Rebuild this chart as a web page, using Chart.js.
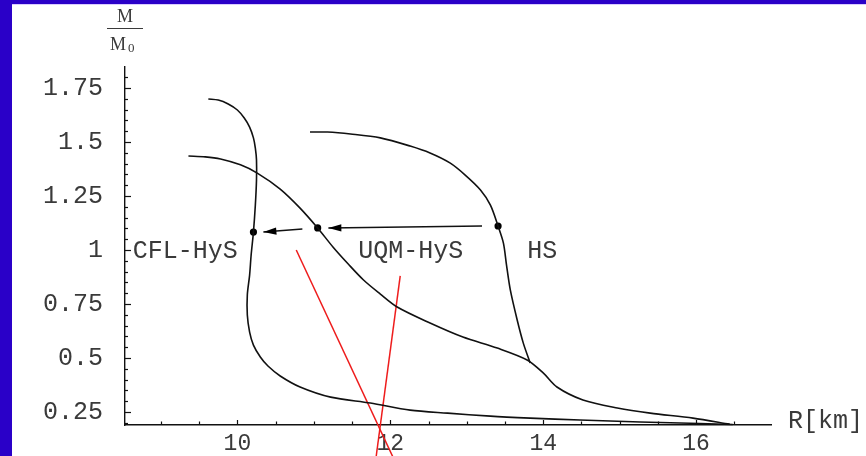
<!DOCTYPE html>
<html>
<head>
<meta charset="utf-8">
<script src="https://cdn.jsdelivr.net/npm/chart.js@4.4.1/dist/chart.umd.min.js"></script>
<style>
  html, body { margin: 0; padding: 0; background: #ffffff; }
  canvas { display: block; }
</style>
</head>
<body>
<canvas id="c" width="866" height="456"></canvas>
<script>
// ---- data ----
const R_CFL = [9.62, 9.75, 9.88, 10.0, 10.09, 10.16, 10.21, 10.235, 10.25, 10.25, 10.235, 10.21, 10.18, 10.16, 10.13, 10.13, 10.16, 10.21, 10.30, 10.40, 10.56, 10.82, 11.22, 11.74, 12.26, 12.75, 13.31, 13.83, 14.48, 15.27, 16.05, 16.48];
const M_CFL = [1.699, 1.694, 1.676, 1.648, 1.611, 1.569, 1.519, 1.472, 1.417, 1.324, 1.208, 1.083, 0.977, 0.884, 0.792, 0.699, 0.620, 0.560, 0.505, 0.463, 0.417, 0.366, 0.319, 0.292, 0.259, 0.245, 0.231, 0.222, 0.213, 0.204, 0.197, 0.192];

const R_UQM = [9.36, 9.58, 9.78, 10.04, 10.26, 10.56, 10.82, 11.05, 11.25, 11.45, 11.65, 11.87, 12.09, 12.52, 12.95, 13.40, 13.79, 14.00, 14.18, 14.52, 14.97, 15.40, 15.96, 16.44];
const M_UQM = [1.435, 1.431, 1.421, 1.394, 1.356, 1.282, 1.194, 1.102, 1.014, 0.935, 0.861, 0.796, 0.736, 0.662, 0.597, 0.546, 0.491, 0.431, 0.366, 0.306, 0.269, 0.245, 0.222, 0.194];

const R_HS = [10.95, 11.18, 11.48, 11.87, 12.26, 12.52, 12.78, 12.98, 13.18, 13.31, 13.41, 13.48, 13.52, 13.57, 13.66, 13.74, 13.83];
const M_HS = [1.546, 1.546, 1.537, 1.519, 1.481, 1.449, 1.403, 1.347, 1.278, 1.208, 1.111, 1.032, 0.931, 0.815, 0.676, 0.569, 0.477];

// transition points (HS, UQM-HyS, CFL-HyS)
const R_DOTS = [13.41, 11.05, 10.21];
const M_DOTS = [1.111, 1.102, 1.083];

// arrows: [start, tip]
const R_ARROW1 = [13.20, 11.19];
const M_ARROW1 = [1.111, 1.102];
const R_ARROW2 = [10.85, 10.34];
const M_ARROW2 = [1.097, 1.083];

// red lines
const R_RED1 = [10.77, 12.05];
const M_RED1 = [1.0, 0.03];
const R_RED2 = [12.13, 11.81];
const M_RED2 = [0.880, 0.03];

// curve labels and their anchor (left, middle) in data units
const CURVE_LABELS = ["CFL-HyS", "UQM-HyS", "HS"];
const LABEL_R = [8.63, 11.58, 13.79];
const LABEL_M = [1.0, 1.0, 1.0];

// ticks
const X_TICKS = [10, 12, 14, 16];
const Y_TICKS = [0.25, 0.5, 0.75, 1, 1.25, 1.5, 1.75];
const X_TITLE = "R[km]";
const Y_TITLE_TOP = "M";
const Y_TITLE_BOTTOM = "M";
const Y_TITLE_SUB = "0";

// ---- build ----
const pts = (R, M) => R.map((r, i) => ({ x: r, y: M[i] }));
const TEXT = '#3a3a3a';
const MONO = '"Liberation Mono", "DejaVu Sans Mono", monospace';
const SERIF = '"Liberation Serif", "DejaVu Serif", serif';

const curveStyle = { showLine: true, borderColor: '#111', borderWidth: 1.6, pointRadius: 0, tension: 0.3, fill: false, clip: false };
const redStyle = { showLine: true, borderColor: '#ee1c1c', borderWidth: 1.5, pointRadius: 0, tension: 0, fill: false, clip: false };
const arrowStyle = { showLine: true, borderColor: '#111', borderWidth: 1.4, pointRadius: 0, tension: 0, fill: false, clip: false };

const datasets = [
  Object.assign({ label: 'CFL-HyS', data: pts(R_CFL, M_CFL) }, curveStyle),
  Object.assign({ label: 'UQM-HyS', data: pts(R_UQM, M_UQM) }, curveStyle),
  Object.assign({ label: 'HS', data: pts(R_HS, M_HS) }, curveStyle),
  Object.assign({ label: 'arrow1', data: pts(R_ARROW1, M_ARROW1), isArrow: true }, arrowStyle),
  Object.assign({ label: 'arrow2', data: pts(R_ARROW2, M_ARROW2), isArrow: true }, arrowStyle),
  Object.assign({ label: 'red1', data: pts(R_RED1, M_RED1) }, redStyle),
  Object.assign({ label: 'red2', data: pts(R_RED2, M_RED2) }, redStyle),
  { label: 'dots', data: pts(R_DOTS, M_DOTS), showLine: false, pointRadius: 3.6, pointBackgroundColor: '#000', pointBorderColor: '#000', pointBorderWidth: 0, clip: false }
];

const decor = {
  id: 'decor',
  beforeDraw(chart) {
    const ctx = chart.ctx;
    ctx.save();
    ctx.fillStyle = '#ffffff';
    ctx.fillRect(0, 0, chart.width, chart.height);
    ctx.fillStyle = '#2a00c8';
    ctx.fillRect(0, 0, chart.width, 4);
    ctx.fillRect(0, 0, 12, chart.height);
    ctx.fillStyle = '#d9ccff';
    ctx.fillRect(12, 4, chart.width - 12, 1);
    ctx.restore();
  },
  afterDraw(chart) {
    const ctx = chart.ctx;
    const xs = chart.scales.x, ys = chart.scales.y;
    const a = chart.chartArea;
    ctx.save();
    ctx.strokeStyle = '#111';
    ctx.lineWidth = 1.2;
    // y ticks (inside)
    for (let k = 4; k <= 37; k++) {
      const v = k * 0.05;
      if (v < ys.min || v > ys.max) continue;
      const major = Y_TICKS.some(t => Math.abs(t - v) < 1e-6);
      const py = Math.round(ys.getPixelForValue(v)) + 0.5;
      ctx.beginPath();
      ctx.moveTo(a.left, py);
      ctx.lineTo(a.left + (major ? 6 : 3), py);
      ctx.stroke();
    }
    // x ticks (inside)
    for (let k = 18; k <= 33; k++) {
      const v = k * 0.5;
      if (v < xs.min || v > xs.max) continue;
      const major = X_TICKS.some(t => Math.abs(t - v) < 1e-6);
      const px = Math.round(xs.getPixelForValue(v)) + 0.5;
      ctx.beginPath();
      ctx.moveTo(px, a.bottom);
      ctx.lineTo(px, a.bottom - (major ? 5 : 3.5));
      ctx.stroke();
    }
    // arrow heads
    chart.data.datasets.forEach((ds, i) => {
      if (!ds.isArrow) return;
      const meta = chart.getDatasetMeta(i);
      const p0 = meta.data[0], p1 = meta.data[1];
      const ang = Math.atan2(p1.y - p0.y, p1.x - p0.x);
      const L = 13, W = 3.6;
      ctx.fillStyle = '#000';
      ctx.beginPath();
      ctx.moveTo(p1.x, p1.y);
      ctx.lineTo(p1.x - L * Math.cos(ang) + W * Math.sin(ang), p1.y - L * Math.sin(ang) - W * Math.cos(ang));
      ctx.lineTo(p1.x - L * Math.cos(ang) - W * Math.sin(ang), p1.y - L * Math.sin(ang) + W * Math.cos(ang));
      ctx.closePath();
      ctx.fill();
    });
    // curve labels
    ctx.fillStyle = TEXT;
    ctx.font = '25px ' + MONO;
    ctx.textAlign = 'left';
    ctx.textBaseline = 'middle';
    CURVE_LABELS.forEach((t, i) => {
      ctx.fillText(t, xs.getPixelForValue(LABEL_R[i]), ys.getPixelForValue(LABEL_M[i]) + 1);
    });
    // x title
    ctx.textBaseline = 'alphabetic';
    ctx.fillText(X_TITLE, a.right + 17, a.bottom + 3);
    // y title (fraction)
    const cx = a.left;
    ctx.font = '18px ' + SERIF;
    ctx.textAlign = 'center';
    ctx.fillText(Y_TITLE_TOP, cx, 22);
    ctx.strokeStyle = TEXT;
    ctx.lineWidth = 1;
    ctx.beginPath();
    ctx.moveTo(cx - 18, 28.5);
    ctx.lineTo(cx + 18, 28.5);
    ctx.stroke();
    ctx.textAlign = 'left';
    ctx.fillText(Y_TITLE_BOTTOM, cx - 15, 50);
    ctx.font = '13px ' + SERIF;
    ctx.fillText(Y_TITLE_SUB, cx + 3, 52);
    ctx.restore();
  }
};

new Chart(document.getElementById('c'), {
  type: 'scatter',
  data: { datasets },
  options: {
    responsive: false,
    animation: false,
    events: [],
    layout: { padding: { top: 67, right: 95, left: 0, bottom: 0 } },
    plugins: { legend: { display: false }, tooltip: { enabled: false } },
    scales: {
      x: {
        type: 'linear',
        min: 8.53, max: 16.98,
        grid: { display: false },
        border: { display: true, color: '#111', width: 1.4 },
        afterBuildTicks: s => { s.ticks = X_TICKS.map(v => ({ value: v })); },
        afterFit: s => { s.height = 31; },
        ticks: { color: TEXT, font: { family: MONO, size: 23 }, padding: -3, maxRotation: 0, autoSkip: false, callback: v => String(v) }
      },
      y: {
        type: 'linear',
        min: 0.19, max: 1.847,
        grid: { display: false },
        border: { display: true, color: '#111', width: 1.4 },
        afterBuildTicks: s => { s.ticks = Y_TICKS.map(v => ({ value: v })); },
        afterFit: s => { s.width = 125; },
        ticks: { color: TEXT, font: { family: MONO, size: 25 }, padding: 14, autoSkip: false, callback: v => String(v) }
      }
    }
  },
  plugins: [decor]
});
</script>
</body>
</html>
